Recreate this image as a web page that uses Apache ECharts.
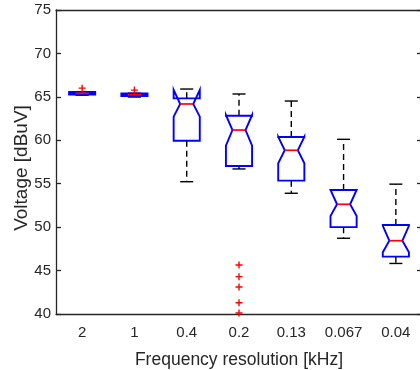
<!DOCTYPE html>
<html>
<head>
<meta charset="utf-8">
<script src="https://cdn.jsdelivr.net/npm/echarts@6/dist/echarts.min.js"></script>
<style>
html,body{margin:0;padding:0;background:#fff;}
#chart{width:420px;height:370px;}
</style>
</head>
<body>
<div id="chart"></div>
<script>
// ---- data ----
const categories  = ['2', '1', '0.4', '0.2', '0.13', '0.067', '0.04'];
const whiskerLow  = [65.18, 64.98, 55.23, 56.70, 53.90, 48.72, 45.82];
const q1          = [65.26, 65.10, 59.95, 57.04, 55.35, 50.00, 46.60];
const notchLow    = [65.31, 65.16, 62.72, 59.38, 57.35, 51.28, 47.10];
const median      = [65.41, 65.25, 64.18, 61.18, 58.85, 52.63, 48.44];
const notchHigh   = [65.51, 65.34, 65.80, 62.90, 60.40, 54.28, 50.15];
const q3          = [65.57, 65.38, 64.83, 62.83, 60.38, 54.28, 50.25];
const whiskerHigh = [65.60, 65.42, 65.90, 65.33, 64.52, 60.11, 54.95];
const outlierGroup = [0, 1, 3, 3, 3, 3, 3];
const outlierValue = [66.00, 65.78, 45.64, 44.30, 43.11, 41.30, 40.12];
const yTicks = [40, 45, 50, 55, 60, 65, 70, 75];

const boxData = categories.map((c, i) => [i, whiskerLow[i], q1[i], notchLow[i], median[i], notchHigh[i], q3[i], whiskerHigh[i]]);
const outlierData = outlierGroup.map((g, k) => [g, outlierValue[k]]);

const FONT = '"Liberation Sans", Arial, Helvetica, sans-serif';
const AX = '#262626';

function renderBox(params, api) {
  const i = api.value(0);
  const lo = api.value(1), a = api.value(2), nl = api.value(3), md = api.value(4),
        nh = api.value(5), b = api.value(6), hi = api.value(7);
  const band = api.size([1, 0])[0];
  const boxW = band * 0.5;
  const half = boxW / 2;
  const inset = boxW * 0.25;
  const capHalf = boxW * 0.25;
  const cx = api.coord([i, md])[0];
  const Y = v => api.coord([i, v])[1];
  const L = cx - half, R = cx + half;
  const dash = {stroke: '#000', lineWidth: 1.4, lineDash: [6, 4], fill: null};
  const solid = {stroke: '#000', lineWidth: 1.4, fill: null};
  return {
    type: 'group',
    children: [
      {type: 'line', shape: {x1: cx, y1: Y(b), x2: cx, y2: Y(hi)}, style: dash},
      {type: 'line', shape: {x1: cx, y1: Y(a), x2: cx, y2: Y(lo)}, style: dash},
      {type: 'line', shape: {x1: cx - capHalf, y1: Y(hi), x2: cx + capHalf, y2: Y(hi)}, style: solid},
      {type: 'line', shape: {x1: cx - capHalf, y1: Y(lo), x2: cx + capHalf, y2: Y(lo)}, style: solid},
      {type: 'polygon', shape: {points: [
          [L, Y(a)], [L, Y(nl)], [L + inset, Y(md)], [L, Y(nh)], [L, Y(b)],
          [R, Y(b)], [R, Y(nh)], [R - inset, Y(md)], [R, Y(nl)], [R, Y(a)]
        ]}, style: {stroke: '#0000ff', lineWidth: 1.9, fill: null, lineJoin: 'miter'}},
      {type: 'line', shape: {x1: L + inset, y1: Y(md), x2: R - inset, y2: Y(md)},
        style: {stroke: '#ff0000', lineWidth: 1.7, fill: null}}
    ]
  };
}

const chart = echarts.init(document.getElementById('chart'), null, {renderer: 'canvas'});
chart.setOption({
  animation: false,
  backgroundColor: '#ffffff',
  textStyle: {fontFamily: FONT},
  grid: {left: 56, top: 10, width: 366, height: 304, containLabel: false, outerBoundsMode: 'none'},
  xAxis: [{
    type: 'category', data: categories, position: 'bottom', boundaryGap: true,
    axisLine: {lineStyle: {color: AX, width: 1.3}},
    axisTick: {inside: true, length: 5, alignWithLabel: true, lineStyle: {color: AX, width: 1.3}},
    axisLabel: {color: AX, fontSize: 15, margin: 11, fontFamily: FONT},
    splitLine: {show: false},
    name: 'Frequency resolution [kHz]', nameLocation: 'middle', nameGap: 37, nameMoveOverlap: false,
    nameTextStyle: {color: AX, fontSize: 17.5, fontFamily: FONT}
  }, {
    type: 'category', data: categories, position: 'top', boundaryGap: true,
    axisLine: {lineStyle: {color: AX, width: 1.3}},
    axisTick: {inside: true, length: 5, alignWithLabel: true, lineStyle: {color: AX, width: 1.3}},
    axisLabel: {show: false}, splitLine: {show: false}
  }],
  yAxis: [{
    type: 'value', min: 40, max: 75, interval: 5, position: 'left',
    axisLine: {show: true, lineStyle: {color: AX, width: 1.3}},
    axisTick: {show: true, inside: true, length: 5, lineStyle: {color: AX, width: 1.3}},
    axisLabel: {color: AX, fontSize: 15, margin: 5, fontFamily: FONT,
      formatter: v => yTicks.indexOf(v) >= 0 ? String(v) : ''},
    splitLine: {show: false},
    name: 'Voltage [dBuV]', nameLocation: 'middle', nameGap: 25, nameMoveOverlap: false,
    nameTextStyle: {color: AX, fontSize: 19, fontFamily: FONT, padding: [0, 12, 0, 0]}
  }, {
    type: 'value', min: 40, max: 75, interval: 5, position: 'right',
    axisLine: {show: true, lineStyle: {color: AX, width: 1.3}},
    axisTick: {show: true, inside: true, length: 5, lineStyle: {color: AX, width: 1.3}},
    axisLabel: {show: false}, splitLine: {show: false}
  }],
  series: [{
    type: 'custom',
    xAxisIndex: 0, yAxisIndex: 0,
    renderItem: renderBox,
    encode: {x: 0, y: [1, 2, 3, 4, 5, 6, 7]},
    data: boxData,
    clip: true,
    z: 2
  }, {
    type: 'scatter',
    xAxisIndex: 0, yAxisIndex: 0,
    data: outlierData,
    symbol: 'path://M4,0 L6,0 L6,4 L10,4 L10,6 L6,6 L6,10 L4,10 L4,6 L0,6 L0,4 L4,4 Z',
    symbolSize: 7,
    itemStyle: {color: '#ff0000', opacity: 1},
    z: 3
  }]
});
</script>
</body>
</html>
